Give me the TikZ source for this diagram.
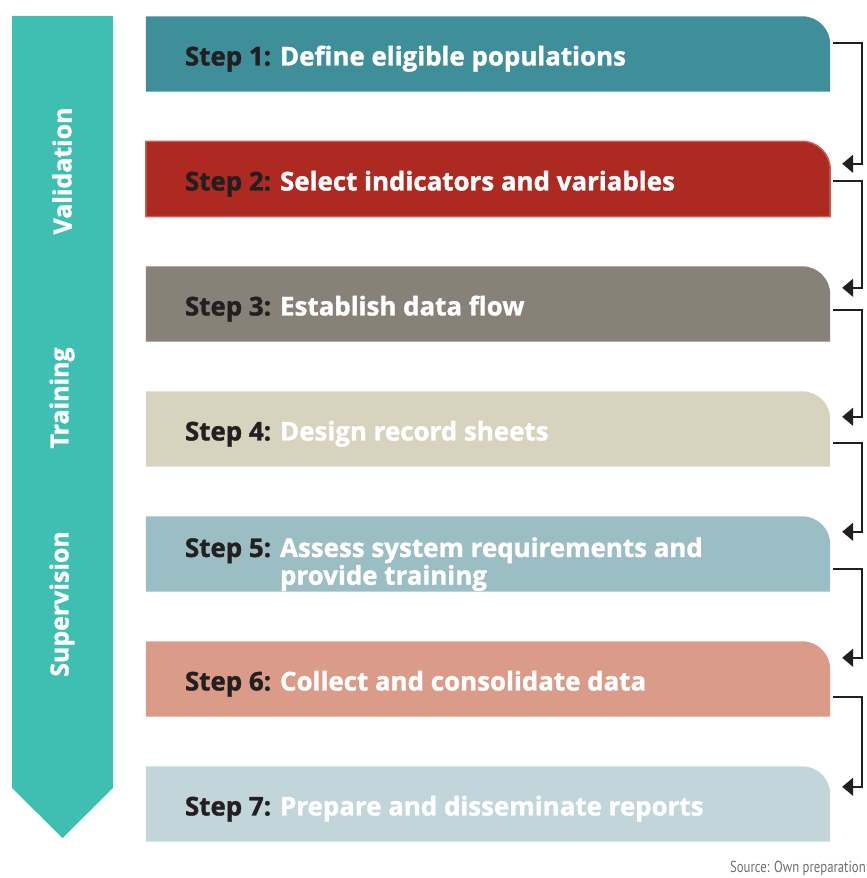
\documentclass[tikz,border=0pt]{standalone}
\usepackage{fontspec}
\setmainfont{Open Sans}[BoldFeatures={FakeBold=1.3}]
\newfontfamily\srcfont[FakeStretch=0.8]{PT Sans}
\usetikzlibrary{arrows.meta,positioning}

\definecolor{band}{HTML}{3FBFB1}
\definecolor{ink}{HTML}{231F20}
\definecolor{stepA}{HTML}{3F8F9A}
\definecolor{stepB}{HTML}{AD2A22}
\definecolor{stepBrim}{HTML}{CC5E50}
\definecolor{stepC}{HTML}{878178}
\definecolor{stepD}{HTML}{D8D3BE}
\definecolor{stepE}{HTML}{9BBEC5}
\definecolor{stepF}{HTML}{DA9C89}
\definecolor{stepG}{HTML}{C2D5DB}
\definecolor{srcgray}{HTML}{6D6E71}

\begin{document}
\begin{tikzpicture}[x=1bp, y=1bp,
	stepbox/.style	=	{minimum width=684bp, minimum height=75bp, inner sep=0pt},
	steptext/.style	=	{anchor=base west, inner sep=0pt, text=white,
				font=\fontsize{26}{27}\selectfont\bfseries},
	phase/.style	=	{rotate=90, inner sep=0pt, text=white,
				font=\fontsize{25}{27}\selectfont\bfseries},
	flow/.style	=	{draw=ink, line width=2bp, -{Triangle[length=11bp, width=18bp]}}
]
\useasboundingbox (0,0) rectangle (867,878);

% phase band
\fill[band] (12,862) -- (113,862) -- (113,90) -- (62.5,40) -- (12,90) -- cycle;
\node[phase] (val) at (62,707) {Validation};
\node[phase] (trn) at (62,480) {Training};
\node[phase] (sup) at (62,274) {Supervision};

% step boxes
\foreach \i/\col in {1/stepA, 2/stepB, 3/stepC, 4/stepD, 5/stepE, 6/stepF, 7/stepG}
{
	\node[stepbox] (b\i) at (488,{824-125*(\i-1)}) {};
	\fill[\col] (b\i.south west) -- (b\i.north west) -- ([xshift=-28bp]b\i.north east)
		arc[start angle=90, end angle=0, radius=28bp] -- (b\i.south east) -- cycle;
}
\draw[stepBrim, line width=1.5bp] (b2.south west) -- (b2.north west) -- ([xshift=-28bp]b2.north east)
	arc[start angle=90, end angle=0, radius=28bp] -- (b2.south east) -- cycle;

% step texts
\node[steptext] (t1) at ([xshift=39bp, yshift=-11.5bp]b1.west) {\textcolor{ink}{Step 1:} Define eligible populations};
\node[steptext] (t2) at ([xshift=39bp, yshift=-11.5bp]b2.west) {\textcolor{ink}{Step 2:} Select indicators and variables};
\node[steptext] (t3) at ([xshift=39bp, yshift=-11.5bp]b3.west) {\textcolor{ink}{Step 3:} Establish data flow};
\node[steptext] (t4) at ([xshift=39bp, yshift=-11.5bp]b4.west) {\textcolor{ink}{Step 4:} Design record sheets};
\node[steptext] (t5) at ([xshift=39bp, yshift=-3bp]b5.west) {\textcolor{ink}{Step 5:}
	\begin{tabular}[t]{@{}l@{}}Assess system requirements and\\provide training\end{tabular}};
\node[steptext] (t6) at ([xshift=39bp, yshift=-11.5bp]b6.west) {\textcolor{ink}{Step 6:} Collect and consolidate data};
\node[steptext] (t7) at ([xshift=39bp, yshift=-11.5bp]b7.west) {\textcolor{ink}{Step 7:} Prepare and disseminate reports};

% connectors
\foreach \a/\b/\oo/\ii in {1/2/26.5/22.5, 2/3/39.5/21.5, 3/4/43.5/25.5,
	4/5/51.5/15.5, 5/6/52.5/16.5, 6/7/55.5/20.5}
	\draw[flow] ([xshift=3bp, yshift=-\oo bp]b\a.north east) -- ++(29,0)
		|- ([xshift=12bp, yshift=-\ii bp]b\b.north east);

\node[anchor=base east, inner sep=0pt, text=srcgray, font=\srcfont\fontsize{16}{16}\selectfont]
	(src) at (866,5) {Source: Own preparation};
\end{tikzpicture}
\end{document}
